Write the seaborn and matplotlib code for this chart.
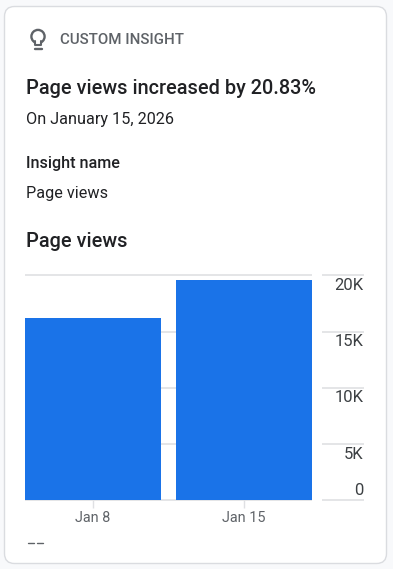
import matplotlib
matplotlib.use("Agg")
import matplotlib.pyplot as plt
import pandas as pd
import seaborn as sns
from matplotlib.patches import Circle, FancyBboxPatch

# values
weeks = ["Jan 8", "Jan 15"]
page_views = [16220, 19600]
y_ticks = [0, 5000, 10000, 15000, 20000]
y_labels = ["0", "5K", "10K", "15K", "20K"]

W, H = 393, 569
BLUE = "#1a73e8"
GRID = "#dfe0e3"
DARK = "#202124"
GREY = "#5f6368"

sns.set_theme(style="white")
plt.rcParams["font.family"] = ["Roboto", "DejaVu Sans"]

fig = plt.figure(figsize=(W / 100, H / 100), dpi=100, facecolor="#f8f9fb")


def fx(px):
    return px / W


def fy(py):
    return 1 - py / H


def px_axes(left, top, right, bottom):
    return fig.add_axes([fx(left), fy(bottom), (right - left) / W, (bottom - top) / H])


# card
bg = fig.add_axes([0, 0, 1, 1])
bg.set_xlim(0, W)
bg.set_ylim(H, 0)
bg.axis("off")
bg.add_patch(FancyBboxPatch((4.5, 6.5), 382, 557, boxstyle="round,pad=0,rounding_size=10",
                            fc="white", ec="#dadce0", lw=1))

# bulb icon
bg.add_patch(Circle((38, 36.5), 6.6, fc="none", ec=GREY, lw=1.7))
bg.fill([34, 42, 41, 35], [40.5, 40.5, 45, 45], fc="white", ec="none", zorder=3)
bg.plot([35, 35, 41, 41], [41, 45, 45, 41], color=GREY, lw=1.5, zorder=4)
bg.plot([34.5, 41.5], [49, 49], color=GREY, lw=1.7)

# texts
bg.text(60.5, 39.5, "CUSTOM INSIGHT", color=GREY, fontsize=10.9, fontweight="medium", va="center")
bg.text(25.5, 88.5, "Page views increased by 20.83%", color=DARK, fontsize=14.3, fontweight="medium", va="center")
bg.text(25.5, 119.5, "On January 15, 2026", color=DARK, fontsize=11.7, va="center")
bg.text(25.5, 163.5, "Insight name", color=DARK, fontsize=11.6, fontweight="medium", va="center")
bg.text(25.5, 193.5, "Page views", color=DARK, fontsize=11.7, va="center")
bg.text(25.5, 241.5, "Page views", color=DARK, fontsize=14.3, fontweight="medium", va="center")

# clipped legend remnant at the card's bottom
bg.plot([28.3, 34], [542.5, 542.5], color=GREY, lw=1)
bg.plot([37, 43], [542.5, 542.5], color=GREY, lw=1)

# bars
df = pd.DataFrame({"week": weeks, "views": page_views})
ax = px_axes(24.8, 275.3, 312.3, 500.3)
ax.patch.set_alpha(0)
ax.hlines(y_ticks, -0.45, 1.45, color=GRID, lw=1.2, zorder=0, clip_on=False)
sns.barplot(data=df, x="week", y="views", color=BLUE, saturation=1, width=0.9, linewidth=0, ax=ax, zorder=2)
ax.set_xlim(-0.45, 1.45)
ax.set_ylim(0, 20000)
ax.set_xlabel("")
ax.set_ylabel("")
ax.set_yticks([])
sns.despine(ax=ax, left=True, top=True, right=True, bottom=True)
ax.tick_params(axis="x", length=6, width=1, color=GRID, labelcolor=GREY, labelsize=10.4, pad=1.5, bottom=True)

# right hand axis labels, each sits under its own gridline except the zero
rx = px_axes(322, 275.3, 363.5, 500.3)
rx.patch.set_alpha(0)
rx.axis("off")
rx.set_xlim(0, 1)
rx.set_ylim(0, 20000)
rx.hlines(y_ticks, 0, 1, color=GRID, lw=1.2, clip_on=False)
for val, lab in zip(y_ticks, y_labels):
    off = 6.8 if val == 0 else -7.2
    rx.annotate(lab, (1, val), xytext=(0, off), textcoords="offset points", ha="right", va="center",
                color="#3c4043", fontsize=12, annotation_clip=False)

fig.savefig("out.png", dpi=100, facecolor=fig.get_facecolor())
